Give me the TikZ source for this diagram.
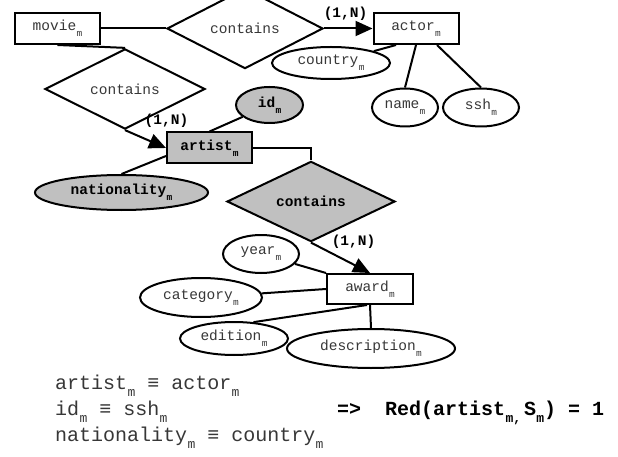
\documentclass[tikz,border=0pt]{standalone}
\usepackage{fontspec}
\setmainfont{Liberation Mono}
\usetikzlibrary{shapes.geometric,arrows.meta,calc}
\definecolor{gshade}{RGB}{192,192,192}
\definecolor{txtc}{RGB}{55,55,55}
\newcommand\dg{\fontsize{14.5}{17}\selectfont}
\newcommand\bt{\fontsize{20}{22}\selectfont}
\newcommand\sbm{\kern0.3pt\raisebox{-6pt}{\fontsize{9.5}{9.5}\selectfont m}}
\newcommand\sbb{\kern0.3pt\raisebox{-7.5pt}{\fontsize{13}{13}\selectfont m}}
\newcommand\sbc{\kern0.3pt\raisebox{-7.5pt}{\fontsize{13}{13}\selectfont m,}\kern3pt}
\begin{document}
\begin{tikzpicture}[x=1pt,y=-1pt,
  ln/.style={line width=2pt},
  arr/.style={-{Triangle[length=17pt,width=15pt]}},
  ent/.style={draw, line width=2pt, fill=white, minimum width=85pt, minimum height=31pt, inner sep=0pt, font=\dg, text=txtc},
  att/.style={draw, ellipse, line width=2pt, fill=white, inner sep=0pt, font=\dg, text=txtc},
  rel/.style={draw, diamond, line width=2pt, fill=white, inner sep=0pt, font=\dg, text=txtc},
  shade/.style={fill=gshade, text=black, font=\dg\bfseries},
  lbl/.style={font=\dg\bfseries, inner sep=0pt},
  btxt/.style={font=\bt, text=txtc, inner sep=0pt, anchor=base west},
  bbold/.style={font=\bt\bfseries, inner sep=0pt, anchor=base west}]
\useasboundingbox (0,0) rectangle (618,457);
\node[ent] (movie) at (57.5,28.5) {movie\sbm};
\node[rel, minimum width=156pt, minimum height=57pt] (c1) at (245,28.5) {contains};
\node[ent] (actor) at (416,28.5) {actor\sbm};
\node[att, minimum width=118pt, minimum height=32pt] (country) at (331,63) {country\sbm};
\node[att, minimum width=66pt, minimum height=38pt] (name) at (405,107.5) {name\sbm};
\node[att, minimum width=76pt, minimum height=38pt] (ssh) at (481,107.5) {ssh\sbm};
\node[rel, minimum width=160pt, minimum height=52pt] (c2) at (125,89) {contains};
\node[att, shade, minimum width=67pt, minimum height=36pt] (id) at (269.5,105) {id\sbm};
\node[ent, shade] (artist) at (209.5,148) {artist\sbm};
\node[att, shade, minimum width=173pt, minimum height=35pt] (nat) at (121.5,192.5) {nationality\sbm};
\node[rel, shade, minimum width=168pt, minimum height=57pt] (c3) at (311,201.5) {contains};
\node[att, minimum width=76pt, minimum height=38pt] (year) at (261,254) {year\sbm};
\node[ent, minimum width=86pt, minimum height=30pt] (award) at (370,289) {award\sbm};
\node[att, minimum width=122pt, minimum height=39pt] (cat) at (201,297.5) {category\sbm};
\node[att, minimum width=108pt, minimum height=33pt] (ed) at (234,338.5) {edition\sbm};
\node[att, minimum width=168pt, minimum height=39pt] (desc) at (371,348.5) {description\sbm};
% connectors
\draw[ln] (movie) -- (c1);
\draw[ln, arr] (c1) -- (actor);
\draw[ln] (movie.south) -- (c2.north);
\draw[ln, arr] (c2.south) -- (artist.west);
\draw[ln] (artist.north) -- (id);
\draw[ln] ($(artist.west)+(0,8)$) -- (nat.north);
\draw[ln] (artist.east) -| (c3.north);
\draw[ln, arr] (c3.south) -- (award.north);
\draw[ln] ($(actor.south)+(-20,0)$) -- (country);
\draw[ln] (actor.south) -- (name.north);
\draw[ln] ($(actor.south)+(21,0)$) -- (ssh.north);
\draw[ln] (award.north west) -- (year);
\draw[ln] (award.west) -- (cat);
\draw[ln] ($(award.south)+(-3,0)$) -- (ed.40);
\draw[ln] (award.south) -- (desc.north);
% cardinality labels
\node[lbl] (n1) at (345.5,14) {(1,N)};
\node[lbl] (n2) at (166.5,120.5) {(1,N)};
\node[lbl] (n3) at (353.5,242) {(1,N)};
% bottom text
\node[btxt] (e1) at (55,389) {artist\sbb{} ≡ actor\sbb};
\node[btxt] (e2) at (55,415) {id\sbb{} ≡ ssh\sbb};
\node[btxt] (e3) at (55,441) {nationality\sbb{} ≡ country\sbb};
\node[bbold] (r) at (337,415) {=>~~Red(artist\sbc S\sbb) = 1};
\end{tikzpicture}
\end{document}
